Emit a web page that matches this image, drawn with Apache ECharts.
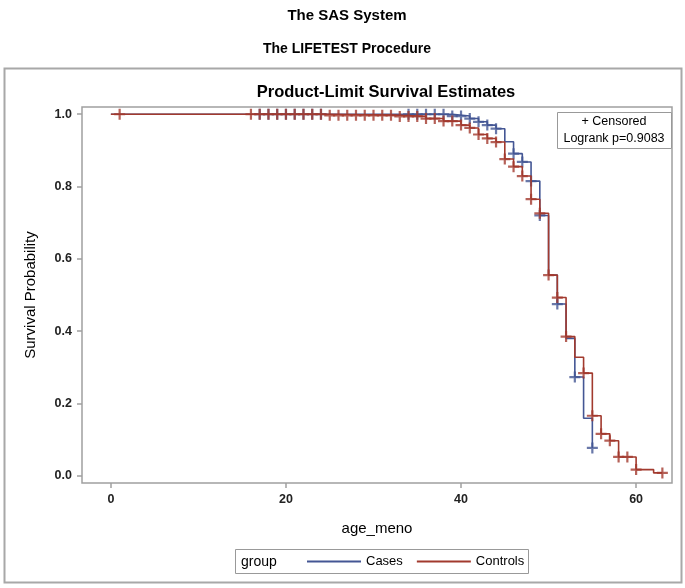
<!DOCTYPE html>
<html>
<head>
<meta charset="utf-8">
<script src="https://cdn.jsdelivr.net/npm/echarts@6/dist/echarts.min.js"></script>
<style>html,body{margin:0;padding:0;background:#fff;}#c{width:685px;height:588px;}</style>
</head>
<body>
<div id="c"></div>
<script>
// ---- data ----
const casesTime = [0, 39, 41, 42, 43, 44, 45, 46, 47, 48, 49, 50, 51, 52, 53, 54, 55];
const casesSurv = [1.0, 0.995, 0.988, 0.979, 0.970, 0.960, 0.924, 0.891, 0.868, 0.815, 0.720, 0.555, 0.475, 0.380, 0.273, 0.159, 0.077];
const casesLast = 55;
const casesCensored = [17,18,19,20,21,22,23,24,34,35,36,37,38,39,40,41,42,43,44,46,47,48,49,51,53,55];

const controlsTime = [0, 25, 33, 36, 38, 40, 41, 42, 43, 44, 45, 46, 47, 48, 49, 50, 51, 52, 53, 54, 55, 56, 57, 58, 60, 62];
const controlsSurv = [1.0, 0.997, 0.994, 0.988, 0.981, 0.970, 0.962, 0.944, 0.933, 0.923, 0.876, 0.855, 0.829, 0.765, 0.726, 0.555, 0.493, 0.385, 0.328, 0.284, 0.166, 0.116, 0.097, 0.052, 0.017, 0.008];
const controlsLast = 63;
const controlsCensored = [1,16,17,18,19,20,21,22,23,24,25,26,27,28,29,30,31,32,33,34,35,36,37,38,39,40,41,42,43,44,45,46,47,48,49,50,51,52,54,55,56,57,58,59,60,63];

const xTicks = [0, 20, 40, 60];
const yTicks = [0, 0.2, 0.4, 0.6, 0.8, 1.0];
const groupNames = ['Cases', 'Controls'];
const logrankText = 'Logrank p=0.9083';

// ---- helpers ----
function stepLine(times, surv, last) {
  const d = times.map((t, i) => [t, surv[i]]);
  d.push([last, surv[surv.length - 1]]);
  return d;
}
function survAt(times, surv, t) {
  let s = surv[0];
  for (let i = 0; i < times.length; i++) { if (times[i] <= t) s = surv[i]; }
  return s;
}
function censorPts(ages, times, surv) {
  return ages.map(a => [a, survAt(times, surv, a)]);
}

const BLUE = '#445694';
const RED = '#A23A2E';
const FONT = 'Liberation Sans';
const plus = 'path://M-1,-5 L1,-5 L1,-1 L5,-1 L5,1 L1,1 L1,5 L-1,5 L-1,1 L-5,1 L-5,-1 L-1,-1 Z';

const chart = echarts.init(document.getElementById('c'), null, {renderer: 'canvas'});
chart.setOption({
  animation: false,
  backgroundColor: '#fff',
  title: [
    {text: 'The SAS System', left: 342, top: 3, textAlign: 'center',
     textStyle: {fontFamily: FONT, fontSize: 15, fontWeight: 'bold', color: '#000'}},
    {text: 'The LIFETEST Procedure', left: 342, top: 37, textAlign: 'center',
     textStyle: {fontFamily: FONT, fontSize: 14, fontWeight: 'bold', color: '#000'}},
    {text: 'Product-Limit Survival Estimates', left: 381, top: 79, textAlign: 'center',
     textStyle: {fontFamily: FONT, fontSize: 16.5, fontWeight: 'bold', color: '#000'}}
  ],
  graphic: [
    {type: 'rect', shape: {x: 4.5, y: 68.5, width: 677, height: 514}, z: -10,
     style: {fill: '#fff', stroke: '#a8a8a8', lineWidth: 2}},
    {type: 'rect', shape: {x: 557.5, y: 112.5, width: 114, height: 36}, z: 10,
     style: {fill: '#fff', stroke: '#999', lineWidth: 1}},
    {type: 'text', x: 614, y: 122, z: 11,
     style: {text: '+ Censored', fontFamily: FONT, fontSize: 12.5, fill: '#000', textAlign: 'center', textVerticalAlign: 'middle'}},
    {type: 'text', x: 614, y: 138.5, z: 11,
     style: {text: logrankText, fontFamily: FONT, fontSize: 12.5, fill: '#000', textAlign: 'center', textVerticalAlign: 'middle'}},
    {type: 'rect', shape: {x: 235.5, y: 549.5, width: 293, height: 24}, z: 10,
     style: {fill: '#fff', stroke: '#999', lineWidth: 1}},
    {type: 'text', x: 241, y: 562, z: 11,
     style: {text: 'group', fontFamily: FONT, fontSize: 14, fill: '#000', textAlign: 'left', textVerticalAlign: 'middle'}}
  ],
  legend: {
    data: groupNames, left: 302, top: 553, z: 12, padding: [2, 5],
    icon: 'rect', itemWidth: 54, itemHeight: 2, itemGap: 14,
    selectedMode: false,
    textStyle: {fontFamily: FONT, fontSize: 13, color: '#000'}
  },
  grid: {left: 82, right: 13, top: 107, bottom: 105, show: true, borderColor: '#a0a0a0', borderWidth: 1.5, backgroundColor: 'transparent'},
  xAxis: {
    type: 'value', min: -3.3, max: 64.1,
    name: 'age_meno', nameLocation: 'middle', nameGap: 38,
    nameTextStyle: {fontFamily: FONT, fontSize: 15, color: '#000'},
    axisLine: {show: false, onZero: false},
    splitLine: {show: false},
    axisTick: {show: true, length: 5, lineStyle: {color: '#a0a0a0', width: 1.5}, customValues: xTicks},
    axisLabel: {fontFamily: FONT, fontSize: 12.5, fontWeight: 'bold', color: '#222', margin: 10, customValues: xTicks}
  },
  yAxis: {
    type: 'value', min: -0.02, max: 1.02,
    name: 'Survival Probability', nameLocation: 'middle', nameGap: 44,
    nameTextStyle: {fontFamily: FONT, fontSize: 15, color: '#000'},
    axisLine: {show: false, onZero: false},
    splitLine: {show: false},
    axisTick: {show: true, length: 5, lineStyle: {color: '#a0a0a0', width: 1.5}, customValues: yTicks},
    axisLabel: {fontFamily: FONT, fontSize: 12.5, fontWeight: 'bold', color: '#222', margin: 10,
      customValues: yTicks, formatter: v => v.toFixed(1)}
  },
  series: [
    {name: 'Cases', type: 'line', step: 'end', showSymbol: false, symbol: 'none',
     data: stepLine(casesTime, casesSurv, casesLast),
     itemStyle: {color: BLUE}, lineStyle: {color: BLUE, width: 1.6}, z: 2},
    {name: 'CasesCens', type: 'scatter', symbol: plus, symbolSize: 11,
     data: censorPts(casesCensored, casesTime, casesSurv),
     itemStyle: {color: BLUE}, z: 3},
    {name: 'Controls', type: 'line', step: 'end', showSymbol: false, symbol: 'none',
     data: stepLine(controlsTime, controlsSurv, controlsLast),
     itemStyle: {color: RED}, lineStyle: {color: RED, width: 1.6}, z: 4},
    {name: 'ControlsCens', type: 'scatter', symbol: plus, symbolSize: 11,
     data: censorPts(controlsCensored, controlsTime, controlsSurv),
     itemStyle: {color: RED}, z: 5}
  ]
});
</script>
</body>
</html>
